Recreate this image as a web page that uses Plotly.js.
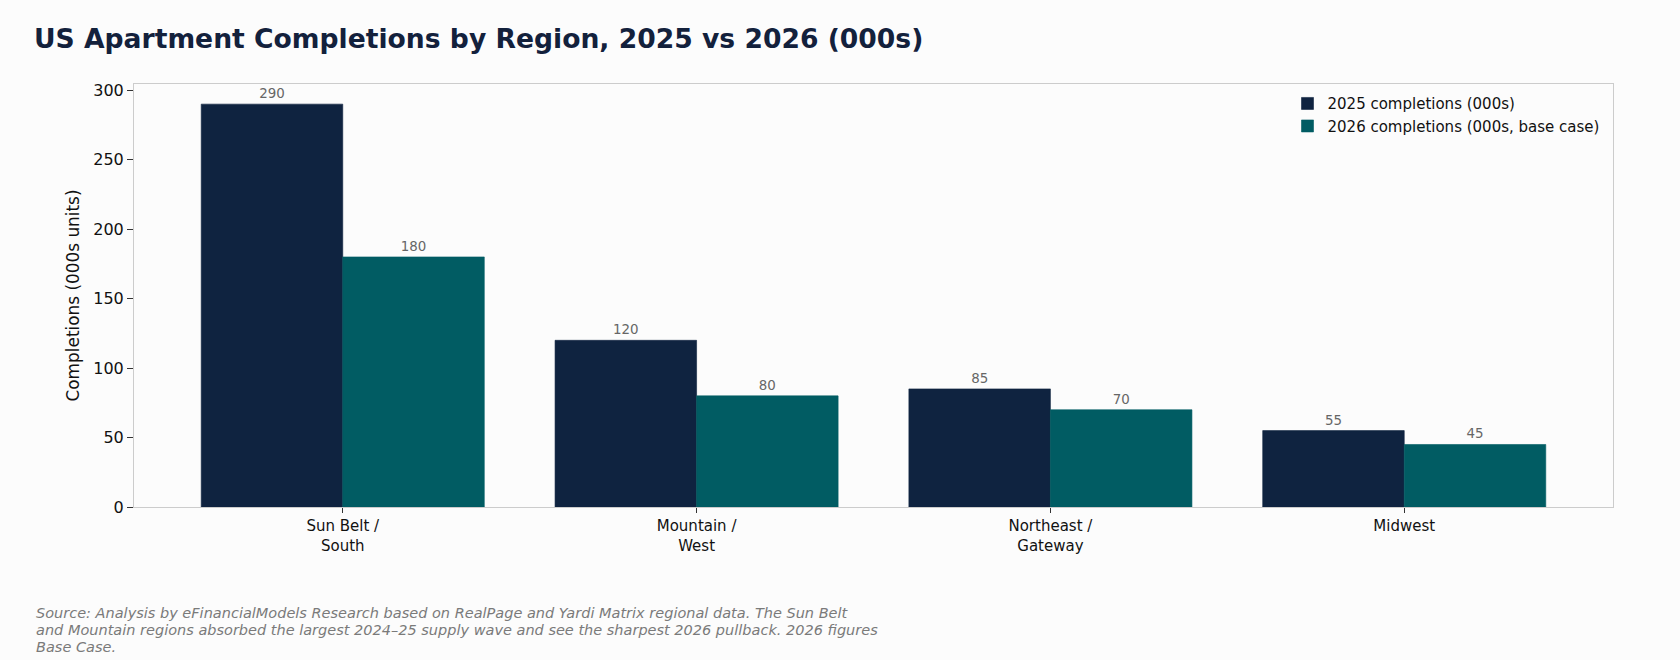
<!DOCTYPE html>
<html>
<head>
<meta charset="utf-8">
<script src="https://cdn.plot.ly/plotly-3.0.1.min.js"></script>
<style>
  html, body { margin: 0; padding: 0; background: #fcfcfc; }
  #chart { width: 1680px; height: 660px; }
</style>
</head>
<body>
<div id="chart"></div>
<script>
const categories = ["Sun Belt / South", "Mountain / West", "Northeast / Gateway", "Midwest"];
const tickLabels = ["Sun Belt /<br>South", "Mountain /<br>West", "Northeast /<br>Gateway", "Midwest"];
const completions2025 = [290, 120, 85, 55];
const completions2026 = [180, 80, 70, 45];
const seriesNames = ["2025 completions (000s)", "2026 completions (000s, base case)"];
const titleText = "US Apartment Completions by Region, 2025 vs 2026 (000s)";
const yTitle = "Completions (000s units)";
const sourceLines = [
  "Source: Analysis by eFinancialModels Research based on RealPage and Yardi Matrix regional data. The Sun Belt",
  "and Mountain regions absorbed the largest 2024–25 supply wave and see the sharpest 2026 pullback. 2026 figures",
  "Base Case."
];

const FONT = "DejaVu Sans, Liberation Sans, sans-serif";
const labelFont = { family: FONT, size: 13.4, color: "#666666" };
const colors = ["#0f2340", "#015c63"];

const traces = [
  {
    type: "bar",
    name: seriesNames[0],
    x: categories,
    y: completions2025,
    marker: { color: colors[0], line: { width: 0.6, color: colors[0] } },
    text: completions2025.map(String),
    textposition: "outside",
    textfont: labelFont,
    cliponaxis: false
  },
  {
    type: "bar",
    name: seriesNames[1],
    x: categories,
    y: completions2026,
    marker: { color: colors[1], line: { width: 0.6, color: colors[1] } },
    text: completions2026.map(String),
    textposition: "outside",
    textfont: labelFont,
    cliponaxis: false
  }
];

const plotTop = 84, plotBottom = 507, plotH = plotBottom - plotTop, plotL = 134, plotW = 1479;
const sourceY = [613, 630, 647];

const annotations = sourceLines.map((line, i) => ({
  xref: "paper", yref: "paper",
  x: (34 - plotL) / plotW, xanchor: "left",
  y: (plotBottom - sourceY[i]) / plotH, yanchor: "middle",
  align: "left",
  showarrow: false,
  text: line,
  font: { family: FONT, size: 14.5, color: "#7a7a7a", style: "italic" }
}));

const layout = {
  width: 1680,
  height: 660,
  paper_bgcolor: "#fcfcfc",
  plot_bgcolor: "#fcfcfc",
  margin: { l: plotL, r: 1680 - plotL - plotW, t: plotTop, b: 660 - plotBottom },
  barmode: "group",
  bargap: 0.2,
  bargroupgap: 0,
  hovermode: false,
  font: { family: FONT, color: "#111111" },
  title: {
    text: titleText,
    font: { family: FONT, size: 26.6, color: "#13213c", weight: 700 },
    xref: "container", yref: "container",
    x: 34 / 1680, xanchor: "left",
    y: 1 - 38.5 / 660, yanchor: "middle"
  },
  xaxis: {
    type: "category",
    range: [-0.59, 3.59],
    tickmode: "array",
    tickvals: categories,
    ticktext: tickLabels,
    ticks: "outside",
    ticklen: 5,
    tickcolor: "#333333",
    tickfont: { family: FONT, size: 15, color: "#111111" },
    showline: true, linecolor: "#cccccc", linewidth: 1, mirror: true,
    showgrid: false, zeroline: false, fixedrange: true
  },
  yaxis: {
    range: [0, 304.5],
    tickvals: [0, 50, 100, 150, 200, 250, 300],
    ticks: "outside",
    ticklen: 6,
    tickcolor: "#333333",
    tickfont: { family: FONT, size: 16, color: "#111111" },
    title: { text: yTitle, font: { family: FONT, size: 16.9, color: "#111111" }, standoff: 9 },
    showline: true, linecolor: "#cccccc", linewidth: 1, mirror: true,
    showgrid: false, zeroline: false, fixedrange: true
  },
  legend: {
    x: 1 - 8.5 / plotW, xanchor: "right", y: 1 - 3.2 / plotH, yanchor: "top",
    bgcolor: "rgba(0,0,0,0)",
    font: { family: FONT, size: 15, color: "#111111" }
  },
  annotations: annotations
};

Plotly.newPlot("chart", traces, layout, { displayModeBar: false, staticPlot: true });
</script>
</body>
</html>
